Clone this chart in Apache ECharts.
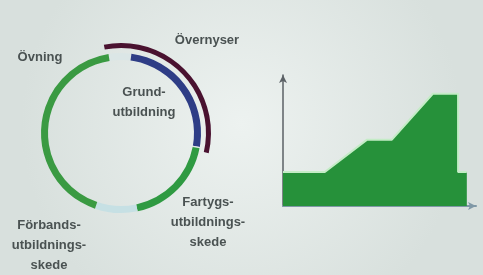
<!DOCTYPE html>
<html>
<head>
<meta charset="utf-8">
<script src="https://cdn.jsdelivr.net/npm/echarts@6/dist/echarts.min.js"></script>
<style>
html,body{margin:0;padding:0;background:#e2e9e6;}
#c{width:483px;height:275px;}
</style>
</head>
<body>
<div id="c"></div>
<script>
// ---- Cycle diagram (degrees, clockwise from the end of the left green arc) ----
const ringNames  = ['gapTop', 'Grundutbildning', 'gapRight', 'Fartygsutbildningsskede', 'gapBottom', 'Förbandsutbildningsskede'];
const ringValues = [16.5, 92.5, 1, 67, 31, 152];
const ringColors = ['#dbe6e6', '#2e3d86', '#dfe8e8', '#2f9a42', '#c6e0e4', '#3a9a42'];
const outerNames  = ['Övernyser', 'rest'];
const outerValues = [114, 246];

// ---- Step/area profile ----
const profileX = [0, 9.1, 18.3, 23.7, 32.6, 38.1, 38.1, 40.0];
const profileY = [1, 1, 1.95, 1.95, 3.3, 3.3, 1, 1];
const xTicks = [8.5, 18.3, 29.8];

// ---- Labels ----
const labelOvning = 'Övning';
const labelOver = 'Övernyser';
const labelGrund = 'Grund-\nutbildning';
const labelFartyg = 'Fartygs-\nutbildnings-\nskede';
const labelForband = 'Förbands-\nutbildnings-\nskede';

const chart = echarts.init(document.getElementById('c'), null, {renderer: 'canvas'});

const textStyle = (txt, x, y, align) => ({
  type: 'text', x: x, y: y, silent: true,
  style: {
    text: txt, fill: '#4a5252', font: 'bold 13px "Liberation Sans", Arial, sans-serif',
    align: align || 'center', verticalAlign: 'middle', lineHeight: 20
  }
});

chart.setOption({
  backgroundColor: {
    type: 'radial', x: 0.5, y: 0.45, r: 0.8,
    colorStops: [{offset: 0, color: '#edf2f0'}, {offset: 1, color: '#d8e0dd'}]
  },
  animation: false,
  grid: {left: 283, right: 7, top: 75, bottom: 69},
  xAxis: {
    type: 'value', min: 0, max: 42,
    axisLine: {show: true, lineStyle: {color: '#7f98a6', width: 2}, symbol: ['none', 'arrow'], symbolSize: [6, 8]},
    axisTick: {show: true, customValues: xTicks, length: 3, inside: true, lineStyle: {color: '#a9bcc4'}},
    axisLabel: {show: false},
    splitLine: {show: false}
  },
  yAxis: {
    type: 'value', min: 0, max: 3.85,
    axisLine: {show: true, lineStyle: {color: '#5b6166', width: 1.5}, symbol: ['none', 'arrow'], symbolSize: [6, 8]},
    axisTick: {show: false},
    axisLabel: {show: false},
    splitLine: {show: false}
  },
  series: [
    {
      type: 'pie', center: [121, 133], radius: [73, 80], startAngle: 99,
      silent: true, label: {show: false}, labelLine: {show: false},
      emphasis: {disabled: true},
      itemStyle: {borderWidth: 0},
      data: ringNames.map((n, i) => ({name: n, value: ringValues[i], itemStyle: {color: ringColors[i]}}))
    },
    {
      type: 'pie', center: [121, 133], radius: [85, 90], startAngle: 101,
      silent: true, label: {show: false}, labelLine: {show: false},
      emphasis: {disabled: true},
      itemStyle: {borderWidth: 0},
      data: outerNames.map((n, i) => ({name: n, value: outerValues[i],
        itemStyle: {color: i === 0 ? '#4a1230' : 'rgba(0,0,0,0)'}}))
    },
    {
      type: 'line',
      data: profileX.map((x, i) => [x, profileY[i]]),
      symbol: 'none',
      lineStyle: {color: '#c4ecc6', width: 2},
      areaStyle: {color: '#26913a', opacity: 1},
      silent: true, z: 1
    }
  ],
  graphic: [
    textStyle(labelOvning, 40, 57),
    textStyle(labelOver, 207, 40),
    textStyle(labelGrund, 144, 102),
    textStyle(labelFartyg, 208, 222),
    textStyle(labelForband, 49, 245)
  ]
});
</script>
</body>
</html>
